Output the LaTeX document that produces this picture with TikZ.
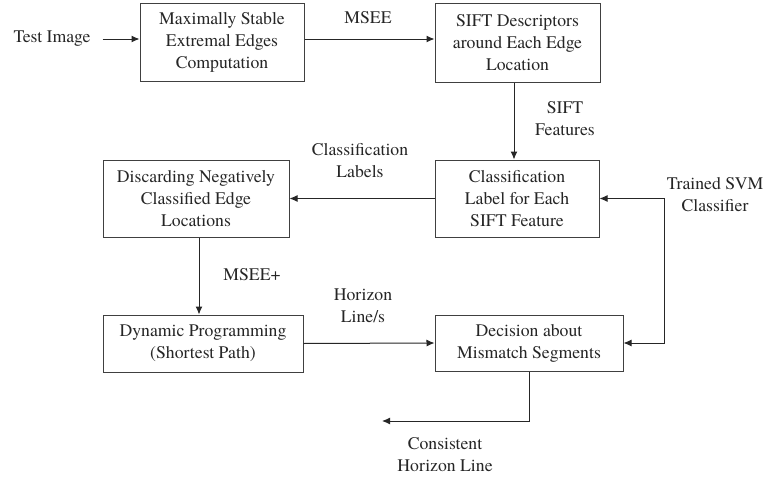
\documentclass[tikz,border=0pt]{standalone}
\usepackage{fontspec}
\setmainfont{TeX Gyre Termes}
\usetikzlibrary{arrows.meta}
\begin{document}
\begin{tikzpicture}[x=1pt,y=-1pt,
  every node/.style={font=\fontsize{17.7}{22}\selectfont, text=black!85, align=center, inner sep=0pt},
  procbox/.style={draw=black!75, line width=1pt, rectangle},
  conn/.style={draw=black!85, line width=1pt, -{Latex[length=8pt,width=7pt]}},
  biconn/.style={draw=black!85, line width=1pt, {Latex[length=8pt,width=7pt]}-{Latex[length=8pt,width=7pt]}}]
\useasboundingbox (0,0) rectangle (766,479);
\fill[white] (0,0) rectangle (766,479);
% boxes
\node[procbox, minimum width=164pt, minimum height=78pt] (b1) at (222,42) {Maximally Stable\\Extremal Edges\\Computation};
\node[procbox, minimum width=165pt, minimum height=79pt] (b2) at (517.5,42.5) {SIFT Descriptors\\around Each Edge\\Location};
\node[procbox, minimum width=164pt, minimum height=77pt] (b3) at (517,198.5) {Classification\\Label for Each\\SIFT Feature};
\node[procbox, minimum width=186pt, minimum height=77pt] (b4) at (196,198.5) {Discarding Negatively\\Classified Edge\\Locations};
\node[procbox, minimum width=200pt, minimum height=57pt] (b5) at (203,343.5) {Dynamic Programming\\(Shortest Path)};
\node[procbox, minimum width=188pt, minimum height=56pt] (b6) at (529,343) {Decision about\\Mismatch Segments};
% labels
\node (ti) at (52,39) {Test Image};
\node (lmsee) at (368,18) {MSEE};
\node (lsift) at (565,119) {SIFT\\Features};
\node (lclass) at (360,160.5) {Classification\\Labels};
\node (lsvm) at (715,195) {Trained SVM\\Classifier};
\node (lmseep) at (252,275) {MSEE+};
\node (lhor) at (363,306) {Horizon\\Line/s};
\node (lcons) at (445,455) {Consistent\\Horizon Line};
% coordinates
\coordinate (svmx) at (664,270);
\coordinate (outend) at (382,421);
% connectors
\draw[conn] (ti.east) ++(12,0) -- (b1.west |- ti);
\draw[conn] (b1.east |- ti) -- (b2.west |- ti);
\draw[conn] (b2.south -| 514,0) -- (b3.north -| 514,0);
\draw[conn] (b3.west) -- (b4.east);
\draw[conn] (b4.south -| 199,0) -- (b5.north -| 199,0);
\draw[conn] (b5.east) -- (b6.west);
\draw[biconn] (b3.east) -- (b3.east -| svmx) -- (b6.east -| svmx) -- (b6.east);
\draw[conn] (b6.south) |- (outend);
\end{tikzpicture}
\end{document}
